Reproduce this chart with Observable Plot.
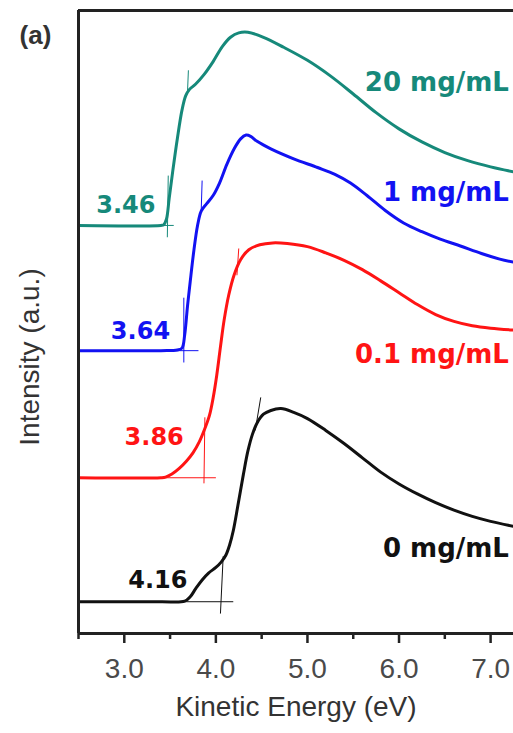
<!DOCTYPE html>
<html>
<head>
<meta charset="utf-8">
<script src="https://cdn.jsdelivr.net/npm/d3@7"></script>
<script src="https://cdn.jsdelivr.net/npm/@observablehq/plot@0.6"></script>
<style>
  html, body { margin: 0; padding: 0; background: #fff; }
  #chart { width: 513px; height: 733px; }
</style>
</head>
<body>
<div id="chart"></div>
<script>
// ---- data (kinetic energy in eV, intensity in arbitrary units incl. vertical offset) ----
const seriesNames = ["0 mg/mL", "0.1 mg/mL", "1 mg/mL", "20 mg/mL"];
const seriesColors = ["#111111", "#ff1414", "#1212f2", "#16897a"];
const onsetLabels = ["4.16", "3.86", "3.64", "3.46"];

const curve0 = [
  [2.50, 5.1], [3.40, 5.1], [3.66, 5.2], [3.72, 5.9], [3.78, 7.2], [3.85, 8.6], [3.92, 9.7],
  [4.00, 10.6], [4.06, 11.5], [4.11, 12.6], [4.15, 14.2], [4.19, 16.5], [4.24, 20.5],
  [4.30, 25.5], [4.35, 29.3], [4.40, 32.0], [4.45, 33.8], [4.52, 35.2], [4.60, 35.8],
  [4.71, 36.1], [4.85, 35.5], [5.00, 34.5], [5.20, 32.6], [5.40, 30.5], [5.60, 28.2],
  [5.80, 25.9], [6.00, 24.0], [6.20, 22.4], [6.40, 21.0], [6.60, 19.8], [6.80, 18.8],
  [7.00, 18.0], [7.25, 17.2]
];
const curve01 = [
  [2.50, 25.0], [3.40, 25.0], [3.45, 25.1], [3.52, 25.6], [3.60, 26.5], [3.68, 27.7],
  [3.75, 29.0], [3.82, 30.8], [3.88, 32.9], [3.93, 35.0], [3.97, 37.8], [4.01, 41.5],
  [4.05, 46.0], [4.09, 50.3], [4.14, 54.3], [4.20, 57.6], [4.27, 60.0], [4.36, 61.6],
  [4.48, 62.4], [4.62, 62.7], [4.78, 62.6], [5.00, 62.1], [5.20, 61.1], [5.40, 59.9],
  [5.60, 58.4], [5.80, 56.6], [6.00, 54.7], [6.20, 52.8], [6.40, 51.2], [6.60, 50.1],
  [6.80, 49.4], [7.00, 49.0], [7.25, 48.7]
];
const curve1 = [
  [2.50, 45.4], [3.40, 45.4], [3.58, 45.5], [3.63, 45.8], [3.66, 48.0], [3.69, 52.5],
  [3.72, 56.5], [3.76, 61.5], [3.80, 65.5], [3.84, 67.8], [3.90, 69.0], [3.97, 70.3],
  [4.04, 72.3], [4.12, 75.3], [4.20, 77.8], [4.27, 79.4], [4.33, 80.0], [4.38, 79.8],
  [4.45, 79.0], [4.60, 77.8], [4.85, 76.2], [5.11, 74.8], [5.30, 73.7], [5.47, 72.3],
  [5.65, 70.3], [5.85, 67.9], [6.05, 65.9], [6.25, 64.5], [6.45, 63.3], [6.67, 62.2],
  [6.90, 61.0], [7.10, 60.1], [7.25, 59.6]
];
const curve20 = [
  [2.50, 65.5], [3.40, 65.5], [3.43, 65.6], [3.46, 66.5], [3.49, 69.8], [3.53, 74.3],
  [3.58, 79.5], [3.63, 84.0], [3.67, 86.3], [3.71, 87.3], [3.78, 88.2], [3.87, 89.7],
  [3.97, 91.8], [4.07, 94.2], [4.16, 95.7], [4.25, 96.4], [4.35, 96.5], [4.52, 95.7],
  [4.74, 94.1], [5.00, 92.0], [5.25, 89.5], [5.50, 86.6], [5.75, 83.6], [6.00, 81.0],
  [6.25, 78.9], [6.50, 77.2], [6.75, 75.9], [7.00, 74.9], [7.25, 74.1]
];
const curves = [curve0, curve01, curve1, curve20];

// onset-construction tangent segments [x1, y1, x2, y2]
const tangents0 = [[2.50, 5.1, 4.19, 5.1], [4.05, 3.2, 4.08, 12.4], [4.49, 37.9, 4.43, 32.6]];
const tangents01 = [[2.50, 25.0, 4.00, 25.0], [3.88, 34.7, 3.87, 24.1], [4.25, 61.8, 4.23, 57.5]];
const tangents1 = [[2.50, 45.4, 3.81, 45.4], [3.65, 53.9, 3.65, 43.5], [3.85, 72.7, 3.84, 67.9]];
const tangents20 = [[2.50, 65.5, 3.54, 65.5], [3.48, 73.5, 3.47, 63.6], [3.70, 90.4, 3.69, 86.8]];
const tangents = [tangents0, tangents01, tangents1, tangents20];

// label anchors (data units)
const nameLabelX = 7.2;
const nameLabelY = [13.6, 44.8, 70.8, 88.4];
const onsetLabelX = [3.69, 3.65, 3.50, 3.34];
const onsetLabelY = [8.5, 31.5, 48.5, 68.7];

const majorTicks = [3, 4, 5, 6, 7];
const minorTicks = [2.5, 3.5, 4.5, 5.5, 6.5];

// ---- build tables ----
const lineRows = curves.flatMap((c, i) => c.map(([e, v]) => ({e, v, s: seriesNames[i]})));
const tangentRows = tangents.flatMap((t, i) => t.map(([x1, y1, x2, y2]) => ({x1, y1, x2, y2, s: seriesNames[i]})));
const nameRows = seriesNames.map((s, i) => ({s, x: nameLabelX, y: nameLabelY[i]}));
const onsetRows = onsetLabels.map((t, i) => ({t, s: seriesNames[i], x: onsetLabelX[i], y: onsetLabelY[i]}));

const color = {domain: seriesNames, range: seriesColors};

const chart = Plot.plot({
  width: 513,
  height: 733,
  marginTop: 10,
  marginBottom: 100,
  marginLeft: 78,
  marginRight: 0,
  style: {fontFamily: "'Liberation Sans', Arial, sans-serif", background: "#fff", overflow: "visible"},
  x: {domain: [2.5, 7.25], label: null},
  y: {domain: [0, 100], axis: null},
  color,
  marks: [
    Plot.link(tangentRows, {x1: "x1", y1: "y1", x2: "x2", y2: "y2", stroke: "s", strokeWidth: 1}),
    Plot.line(lineRows, {x: "e", y: "v", z: "s", stroke: "s", strokeWidth: 3, curve: "catmull-rom"}),
    Plot.text(nameRows, {x: "x", y: "y", text: "s", fill: "s", textAnchor: "end",
      fontFamily: "'DejaVu Sans', sans-serif", fontWeight: "bold", fontSize: 26}),
    Plot.text(onsetRows, {x: "x", y: "y", text: "t", fill: "s", textAnchor: "end",
      fontFamily: "'DejaVu Sans', sans-serif", fontWeight: "bold", fontSize: 24}),
    Plot.ruleX([2.5], {stroke: "#222", strokeWidth: 3}),
    Plot.ruleY([0, 100], {stroke: "#222", strokeWidth: 3}),
    Plot.axisX({ticks: majorTicks, tickSize: 10, tickPadding: 15, tickFormat: d3.format(".1f"),
      fontSize: 28, stroke: "#222", fill: "#4a4a4a", strokeWidth: 2.5, label: null}),
    Plot.axisX({ticks: minorTicks, tickSize: 6, tickFormat: () => "", stroke: "#222", strokeWidth: 2.5, label: null}),
    Plot.text(["Kinetic Energy (eV)"], {frameAnchor: "bottom", textAnchor: "middle", dy: 82, fontSize: 28, fill: "#333"}),
    Plot.text(["Intensity (a.u.)"], {frameAnchor: "left", textAnchor: "middle", rotate: -90, dx: -48, dy: 35, fontSize: 28, fill: "#333"}),
    Plot.text(["(a)"], {frameAnchor: "top-left", textAnchor: "middle", dx: -43, dy: 15, fontSize: 26, fontWeight: "bold", fill: "#333"})
  ]
});

document.getElementById("chart").append(chart);
</script>
</body>
</html>
